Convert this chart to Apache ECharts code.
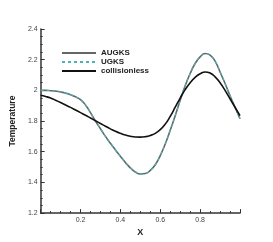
<!DOCTYPE html>
<html>
<head>
<meta charset="utf-8">
<script src="https://cdn.jsdelivr.net/npm/echarts@6/dist/echarts.min.js"></script>
<style>html,body{margin:0;padding:0;background:#fff}#c{width:273px;height:242px}</style>
</head>
<body>
<div id="c"></div>
<script>
var xs = [0,0.025,0.05,0.075,0.1,0.125,0.15,0.175,0.2,0.225,0.25,0.275,0.3,0.325,0.35,0.375,0.4,0.425,0.45,0.475,0.5,0.525,0.55,0.575,0.6,0.625,0.65,0.675,0.7,0.725,0.75,0.775,0.8,0.825,0.85,0.875,0.9,0.925,0.95,0.975,1.0];
var augks = [2.0,2.0,1.998,1.995,1.99,1.982,1.972,1.958,1.94,1.905,1.855,1.80,1.75,1.70,1.655,1.612,1.57,1.53,1.495,1.468,1.455,1.458,1.478,1.515,1.575,1.65,1.74,1.835,1.935,2.03,2.11,2.175,2.218,2.24,2.23,2.19,2.12,2.045,1.965,1.89,1.815];
var ugks = [2.0,2.0,1.998,1.995,1.99,1.982,1.972,1.958,1.94,1.905,1.855,1.80,1.75,1.70,1.655,1.612,1.57,1.53,1.495,1.468,1.455,1.458,1.478,1.515,1.575,1.65,1.74,1.835,1.935,2.03,2.11,2.175,2.218,2.24,2.23,2.19,2.12,2.045,1.965,1.89,1.815];
var collisionless = [1.968,1.96,1.95,1.936,1.921,1.905,1.889,1.872,1.855,1.838,1.82,1.802,1.784,1.766,1.749,1.733,1.72,1.709,1.701,1.696,1.695,1.698,1.706,1.72,1.744,1.78,1.83,1.89,1.95,2.005,2.05,2.085,2.108,2.12,2.113,2.088,2.05,2.0,1.945,1.89,1.835];
var seriesNames = ['AUGKS','UGKS','collisionless'];
var xTicks = [0.2,0.4,0.6,0.8];

function pairs(v){ return xs.map(function(x,i){ return [x, v[i]]; }); }
var chart = echarts.init(document.getElementById('c'));
var axisCol = '#333';
chart.setOption({
  animation:false,
  grid:{left:36,right:33,top:29,bottom:27},
  legend:{
    orient:'vertical', left:56, top:44, itemWidth:34, itemHeight:8, itemGap:1,
    itemStyle:{opacity:0},
    textStyle:{fontSize:8, fontWeight:'bold', color:'#222', fontFamily:'Liberation Sans'},
    data:seriesNames
  },
  xAxis:{
    type:'value', min:0, max:1, interval:0.2,
    name:'X', nameLocation:'middle', nameGap:12,
    nameTextStyle:{fontSize:9, fontWeight:'bold', color:'#222', fontFamily:'Liberation Sans'},
    axisLine:{lineStyle:{color:axisCol,width:1.5}},
    axisTick:{inside:true,length:4,lineStyle:{color:axisCol}},
    minorTick:{show:true,splitNumber:4,length:2,lineStyle:{color:axisCol}},
    splitLine:{show:false},
    axisLabel:{fontSize:7,color:'#444',margin:3,fontFamily:'Liberation Sans',
      formatter:function(v){ var r=Math.round(v*10)/10; return xTicks.indexOf(r)>=0 ? String(r) : ''; }}
  },
  yAxis:{
    type:'value', min:1.2, max:2.4, interval:0.2,
    name:'Temperature', nameLocation:'middle', nameGap:18, nameRotate:90,
    nameTextStyle:{fontSize:8.5, fontWeight:'bold', color:'#222', fontFamily:'Liberation Sans'},
    axisLine:{show:true,lineStyle:{color:axisCol,width:1.5}},
    axisTick:{show:true,inside:true,length:4,lineStyle:{color:axisCol}},
    minorTick:{show:true,splitNumber:4,length:2,lineStyle:{color:axisCol}},
    splitLine:{show:false},
    axisLabel:{fontSize:7,color:'#444',margin:3,fontFamily:'Liberation Sans',
      formatter:function(v){ var r=Math.round(v*10)/10; return r===2?'2':r.toFixed(1); }}
  },
  series:[
    {name:'AUGKS',type:'line',smooth:true,symbol:'none',data:pairs(augks),lineStyle:{color:'#666',width:1.6},itemStyle:{color:'#666'},z:2},
    {name:'UGKS',type:'line',smooth:true,symbol:'none',data:pairs(ugks),lineStyle:{color:'#4ab3b8',width:1.2,type:[3,3]},itemStyle:{color:'#4ab3b8'},z:3},
    {name:'collisionless',type:'line',smooth:true,symbol:'none',data:pairs(collisionless),lineStyle:{color:'#111',width:1.6},itemStyle:{color:'#111'},z:4}
  ]
});
</script>
</body>
</html>
